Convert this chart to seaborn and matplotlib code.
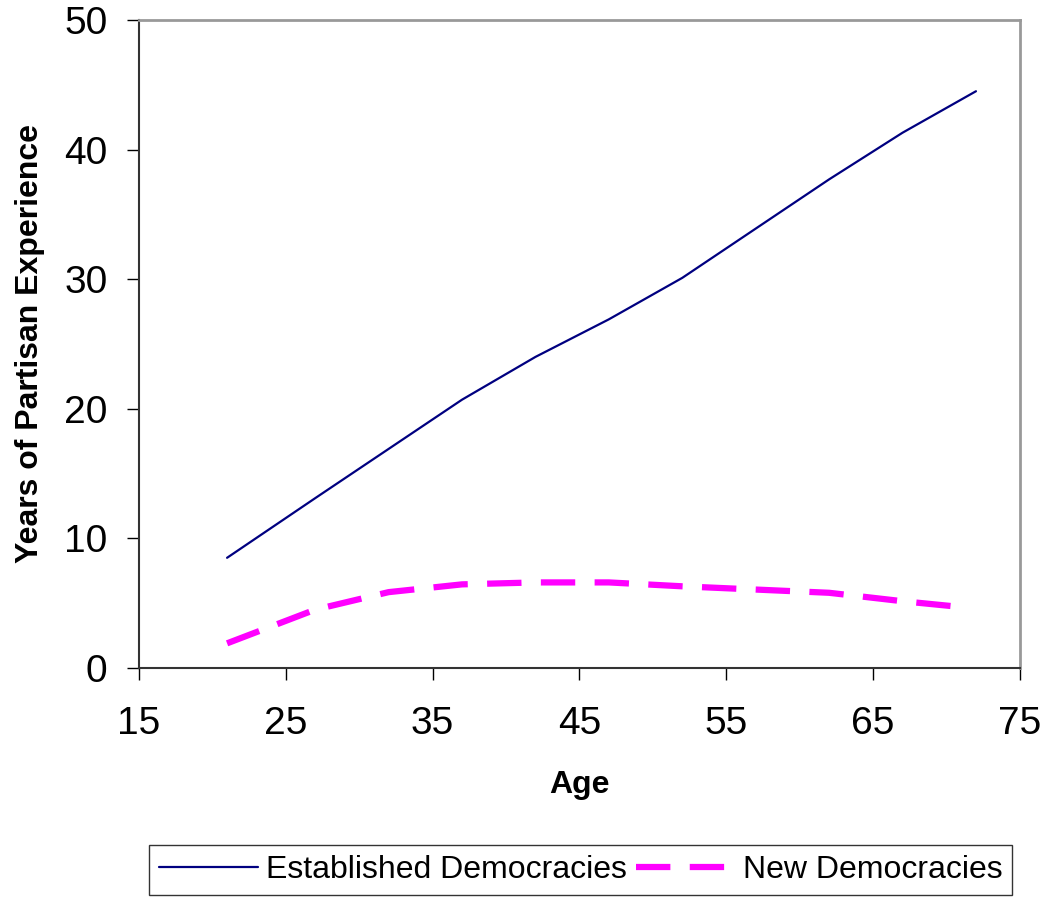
import matplotlib
matplotlib.use("Agg")
import matplotlib.pyplot as plt
import seaborn as sns
import pandas as pd

# Values
ages_established = [21, 27, 32, 37, 42, 47, 52, 57, 62, 67, 72]
years_established = [8.5, 13.1, 16.9, 20.7, 24.0, 26.9, 30.1, 33.9, 37.7, 41.3, 44.5]

ages_new = [21, 27, 32, 37, 42, 47, 52, 57, 62, 67, 71]
years_new = [1.9, 4.5, 5.85, 6.45, 6.6, 6.6, 6.3, 6.05, 5.8, 5.15, 4.7]

series_names = ["Established Democracies", "New Democracies"]

df = pd.concat([
    pd.DataFrame({"Age": ages_established, "Years": years_established, "Group": series_names[0]}),
    pd.DataFrame({"Age": ages_new, "Years": years_new, "Group": series_names[1]}),
])

sns.set_theme(style="white")
plt.rcParams["font.family"] = ["Liberation Sans", "DejaVu Sans"]

fig, ax = plt.subplots(figsize=(10.48, 8.99), dpi=100)
fig.subplots_adjust(left=0.1326, right=0.9733, top=0.9778, bottom=0.2570)

sns.lineplot(data=df[df["Group"] == series_names[0]], x="Age", y="Years",
             color="#000080", linewidth=1.6, ax=ax, label=series_names[0])
sns.lineplot(data=df[df["Group"] == series_names[1]], x="Age", y="Years",
             color="#FF00FF", linewidth=4.5, ax=ax, label=series_names[1],
             dashes=False)
ax.lines[1].set_dashes((5.5, 3.1))
ax.lines[1].set_solid_capstyle("butt")

ax.set_xlim(15, 75)
ax.set_ylim(0, 50)
ax.set_xticks(range(15, 76, 10))
ax.set_yticks(range(0, 51, 10))
ax.tick_params(axis="both", direction="out", length=8.6, width=1, color="black",
               labelsize=28, labelcolor="black", bottom=True, left=True)
ax.tick_params(axis="y", pad=14)
ax.tick_params(axis="x", pad=19)

ax.set_xlabel("Age", fontsize=23, fontweight="bold", color="black", labelpad=20)
ax.set_ylabel("Years of Partisan Experience", fontsize=23, fontweight="bold",
              color="black", labelpad=14)

for side in ["left", "bottom"]:
    ax.spines[side].set_color("#333333")
    ax.spines[side].set_linewidth(1.5)
for side in ["top", "right"]:
    ax.spines[side].set_color("#999999")
    ax.spines[side].set_linewidth(2)

leg = ax.legend(loc="center", bbox_to_anchor=(0.554, 0.0323),
                bbox_transform=fig.transFigure, ncol=2, fontsize=23,
                labelcolor="black", frameon=True, fancybox=False,
                edgecolor="black", handlelength=3.1, columnspacing=0.3,
                handletextpad=0.25, borderpad=0.3, borderaxespad=0)
leg.get_frame().set_linewidth(1.0)

fig.savefig("out.png", dpi=100)
